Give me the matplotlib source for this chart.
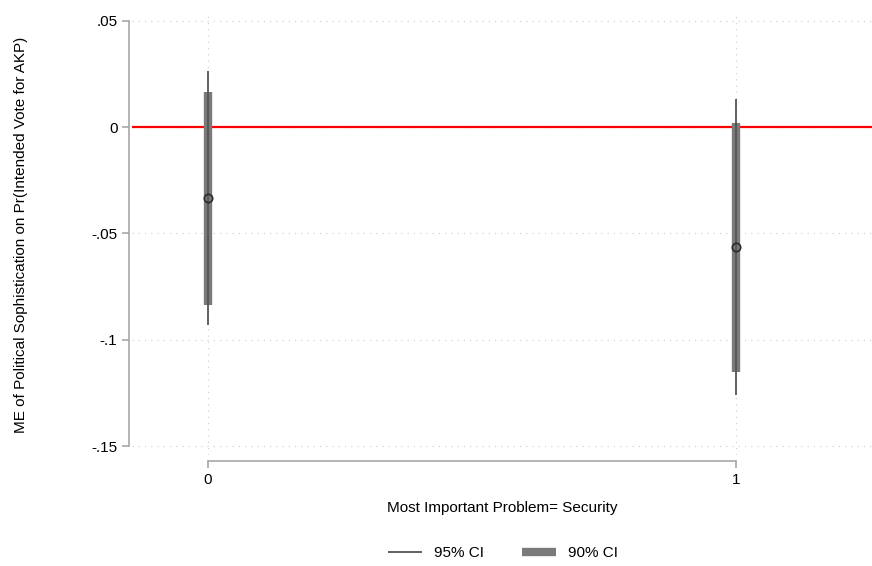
import numpy as np
import matplotlib.pyplot as plt

plt.rcParams['font.family'] = ['Liberation Sans', 'DejaVu Sans']

# marginal effects with confidence intervals
groups = [0, 1]
est = [-0.0333, -0.0564]
ci95_lo = [-0.0930, -0.1259]
ci95_hi = [0.0265, 0.0131]
ci90_lo = [-0.0836, -0.1150]
ci90_hi = [0.0167, 0.0019]

yticks = [0.05, 0, -0.05, -0.1, -0.15]
ytick_labels = ['.05', '0', '-.05', '-.1', '-.15']

fig = plt.figure(figsize=(8.72, 5.66), dpi=100)
ax = fig.add_axes([132 / 872, 1 - 455 / 566, 740 / 872, 440 / 566])

ax.set_xlim(-0.144, 1.258)
ax.set_ylim(-0.1542, 0.0527)

# dotted grid
for y in yticks:
    ax.axhline(y, color='#d4d4d4', lw=0.9, ls=(0, (1, 4)), zorder=0)
for x in groups:
    ax.axvline(x, color='#d4d4d4', lw=0.9, ls=(0, (1, 4)), zorder=0)

ax.axhline(0, color='red', lw=1.6, zorder=1)

ax.vlines(groups, ci90_lo, ci90_hi, color='#7a7a7a', lw=6, zorder=2, label='90% CI')
ax.vlines(groups, ci95_lo, ci95_hi, color='#555555', lw=1.3, zorder=3, label='95% CI')
ax.plot(groups, est, 'o', ms=6, mfc='none', mec='#2a2a2a', mew=1.2, zorder=4)

ax.set_yticks(yticks)
ax.set_yticklabels(ytick_labels)
ax.set_xticks(groups)
ax.set_xticklabels(['0', '1'])

for side in ['top', 'right']:
    ax.spines[side].set_visible(False)
ax.spines['left'].set_position(('outward', 2))
ax.spines['bottom'].set_position(('outward', 4.5))
ax.spines['left'].set_bounds(-0.15, 0.05)
ax.spines['bottom'].set_bounds(0, 1)
for side in ['left', 'bottom']:
    ax.spines[side].set_color('#a0a0a0')
    ax.spines[side].set_linewidth(1.1)
ax.tick_params(colors='#a0a0a0', labelcolor='black', labelsize=11, length=5, width=1.1)

ax.set_xlabel('Most Important Problem= Security', fontsize=11, labelpad=10)
ax.set_ylabel('ME of Political Sophistication on Pr(Intended Vote for AKP)', fontsize=11)
ax.yaxis.set_label_coords(-0.141, 0.5)

h, l = ax.get_legend_handles_labels()
fig.legend(h[::-1], l[::-1], loc='center', bbox_to_anchor=(503 / 872, 1 - 553 / 566),
           ncol=2, frameon=False, fontsize=11, handlelength=2.2, columnspacing=2.5)

fig.savefig('out.png', dpi=100)
